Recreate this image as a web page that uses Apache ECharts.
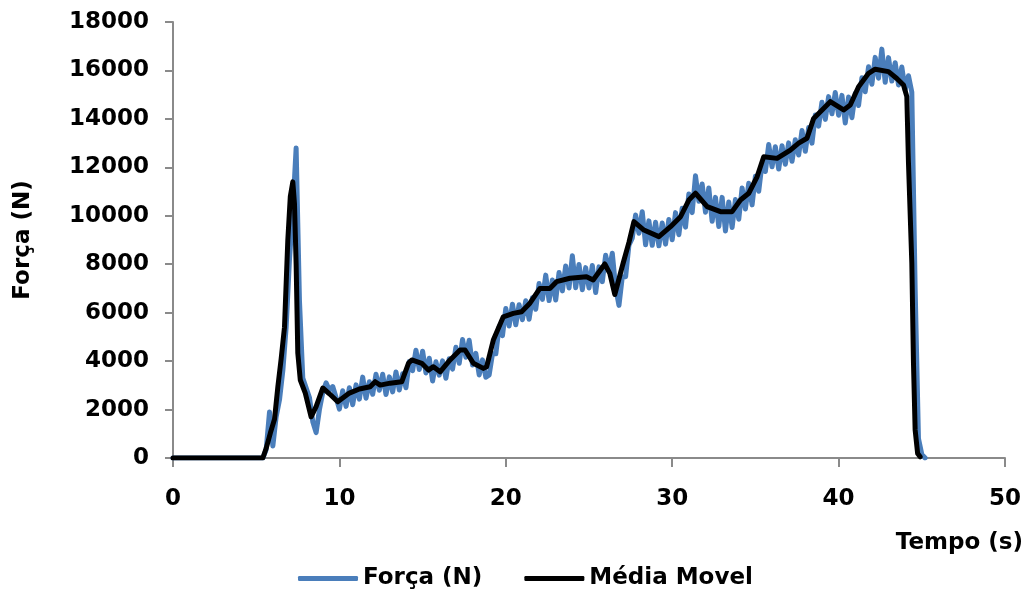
<!DOCTYPE html>
<html>
<head>
<meta charset="utf-8">
<script src="https://cdn.jsdelivr.net/npm/echarts@6/dist/echarts.min.js"></script>
<style>html,body{margin:0;padding:0;background:#fff}#c{width:1034px;height:594px}</style>
</head>
<body>
<div id="c"></div>
<script>
// Força (N) raw samples (time in s, force in N)
const forcaTempo = [
  0, 5.4, 5.6, 5.8, 6.0, 6.2, 6.4, 6.6, 6.8, 7.0,
  7.2, 7.4, 7.6, 7.8, 8.0, 8.2, 8.4, 8.6, 8.8, 9.0,
  9.2, 9.4, 9.6, 9.8, 10.0, 10.2, 10.4, 10.6, 10.8, 11.0,
  11.2, 11.4, 11.6, 11.8, 12.0, 12.2, 12.4, 12.6, 12.8, 13.0,
  13.2, 13.4, 13.6, 13.8, 14.0, 14.2, 14.4, 14.6, 14.8, 15.0,
  15.2, 15.4, 15.6, 15.8, 16.0, 16.2, 16.4, 16.6, 16.8, 17.0,
  17.2, 17.4, 17.6, 17.8, 18.0, 18.2, 18.4, 18.6, 18.8, 19.0,
  19.2, 19.4, 19.6, 19.8, 20.0, 20.2, 20.4, 20.6, 20.8, 21.0,
  21.2, 21.4, 21.6, 21.8, 22.0, 22.2, 22.4, 22.6, 22.8, 23.0,
  23.2, 23.4, 23.6, 23.8, 24.0, 24.2, 24.4, 24.6, 24.8, 25.0,
  25.2, 25.4, 25.6, 25.8, 26.0, 26.2, 26.4, 26.6, 26.8, 27.0,
  27.2, 27.4, 27.6, 27.8, 28.0, 28.2, 28.4, 28.6, 28.8, 29.0,
  29.2, 29.4, 29.6, 29.8, 30.0, 30.2, 30.4, 30.6, 30.8, 31.0,
  31.2, 31.4, 31.6, 31.8, 32.0, 32.2, 32.4, 32.6, 32.8, 33.0,
  33.2, 33.4, 33.6, 33.8, 34.0, 34.2, 34.4, 34.6, 34.8, 35.0,
  35.2, 35.4, 35.6, 35.8, 36.0, 36.2, 36.4, 36.6, 36.8, 37.0,
  37.2, 37.4, 37.6, 37.8, 38.0, 38.2, 38.4, 38.6, 38.8, 39.0,
  39.2, 39.4, 39.6, 39.8, 40.0, 40.2, 40.4, 40.6, 40.8, 41.0,
  41.2, 41.4, 41.6, 41.8, 42.0, 42.2, 42.4, 42.6, 42.8, 43.0,
  43.2, 43.4, 43.6, 43.8, 44.0, 44.2, 44.4, 44.6, 44.8, 45.0,
  45.2
];
const forcaValor = [
  0, 0, 350, 1900, 500, 1700, 2400, 3600, 5400, 8200,
  10200, 12800, 6500, 3300, 2900, 2500, 1500, 1050, 2000, 2700,
  3100, 2800, 2950, 2500, 2020, 2780, 2130, 2900, 2200, 3020,
  2430, 3340, 2470, 3150, 2630, 3460, 2800, 3460, 2620, 3350,
  2730, 3550, 2810, 3480, 2900, 3980, 3610, 4450, 3650, 4410,
  3510, 4120, 3180, 3970, 3420, 4010, 3290, 4100, 3670, 4570,
  3910, 4890, 4160, 4860, 3840, 4320, 3430, 4050, 3330, 3430,
  4300, 4300, 5430, 5050, 6170, 5450, 6350, 5500, 6330, 5710,
  6490, 5730, 6620, 6140, 7200, 6550, 7550, 6500, 7350, 6520,
  7660, 6900, 7930, 7020, 8350, 7030, 7990, 6950, 7860, 7020,
  7950, 6830, 7890, 7280, 8370, 7710, 8450, 7030, 6300, 7470,
  7480, 8790, 9080, 10030, 9280, 10170, 8800, 9790, 8780, 9730,
  8760, 9700, 8830, 9850, 9010, 10130, 9220, 10310, 9530, 10900,
  10130, 11650, 10600, 11310, 10150, 11150, 9770, 10760, 9560, 10760,
  9370, 10570, 9520, 10670, 9860, 11150, 10280, 11340, 10450, 11630,
  11010, 12160, 11830, 12940, 12020, 12850, 11930, 12890, 12130, 13010,
  12250, 13140, 12510, 13520, 12660, 13640, 13000, 14160, 13700, 14690,
  13980, 14920, 14210, 15090, 14150, 14970, 13830, 14900, 14050, 15050,
  14550, 15700, 15120, 16150, 15430, 16540, 15680, 16880, 15510, 16530,
  15560, 16320, 15400, 16140, 15200, 15780, 15100, 7000, 800, 150,
  0
];

// Média Movel (moving average)
const mediaTempo = [
  0, 5.4, 5.6, 5.85, 6.1, 6.3, 6.5, 6.7, 6.9, 7.05,
  7.2, 7.3, 7.4, 7.5, 7.65, 7.95, 8.3, 8.6, 9.0, 9.4,
  9.9, 10.6, 11.2, 11.85, 12.15, 12.45, 13.05, 13.75, 14.15, 14.35,
  14.95, 15.35, 15.65, 16.05, 16.65, 17.25, 17.55, 18.05, 18.65, 18.85,
  19.25, 19.85, 20.45, 20.95, 21.45, 22.05, 22.65, 23.05, 23.85, 24.85,
  25.25, 25.95, 26.25, 26.55, 27.05, 27.4, 27.7, 28.3, 29.2, 29.9,
  30.5, 31.0, 31.4, 32.1, 32.9, 33.6, 34.1, 34.6, 35.1, 35.5,
  36.3, 37.1, 37.6, 38.1, 38.5, 39.5, 40.3, 40.7, 41.2, 41.8,
  42.2, 43.0, 43.5, 43.9, 44.1, 44.2, 44.4, 44.5, 44.6, 44.75,
  44.9
];
const mediaForca = [
  0, 0, 400, 1030, 1600, 2930, 4100, 5400, 9000, 10800,
  11400, 10500, 8000, 4330, 3220, 2680, 1700, 2120, 2890, 2650,
  2320, 2680, 2850, 2940, 3150, 3010, 3090, 3150, 3910, 4050,
  3910, 3630, 3770, 3560, 4050, 4460, 4460, 3910, 3700, 3770,
  4870, 5830, 5970, 6040, 6390, 7000, 7000, 7280, 7420, 7480,
  7350, 8010, 7620, 6750, 8040, 8900, 9760, 9410, 9140, 9550,
  9960, 10650, 10930, 10380, 10170, 10170, 10650, 10930, 11610, 12440,
  12370, 12710, 13000, 13200, 14020, 14710, 14370, 14570, 15330, 15880,
  16050, 15950, 15670, 15400, 14920, 12170, 8040, 3910, 1160, 190,
  50
];

const seriesNames = ['Força (N)', 'Média Movel'];
const xTitle = 'Tempo (s)';
const yTitle = 'Força (N)';

const zip = (a, b) => a.map((t, i) => [t, b[i]]);
const FONT = 'DejaVu Sans';
const plain = v => String(v);

const chart = echarts.init(document.getElementById('c'), null, {renderer: 'canvas'});
chart.setOption({
  animation: false,
  backgroundColor: '#ffffff',
  grid: {left: 173, right: 29, top: 22, bottom: 136, containLabel: false},
  legend: {
    data: seriesNames,
    left: 293, top: 562,
    itemWidth: 60, itemHeight: 5, itemGap: 42,
    icon: 'roundRect',
    textStyle: {fontFamily: FONT, fontWeight: 'bold', fontSize: 23, color: '#000'}
  },
  xAxis: {
    type: 'value', min: 0, max: 50, interval: 10,
    name: xTitle, nameLocation: 'end', nameGap: 18,
    nameTextStyle: {fontFamily: FONT, fontWeight: 'bold', fontSize: 23, color: '#000',
      align: 'right', verticalAlign: 'top', padding: [74, 0, 0, 0]},
    axisLine: {show: true, lineStyle: {color: '#8a8a8a', width: 2}},
    axisTick: {show: true, inside: false, length: 9, lineStyle: {color: '#8a8a8a', width: 2}},
    axisLabel: {margin: 30, fontFamily: FONT, fontWeight: 'bold', fontSize: 23, color: '#000', formatter: plain},
    splitLine: {show: false}
  },
  yAxis: {
    type: 'value', min: 0, max: 18000, interval: 2000,
    name: yTitle, nameLocation: 'middle', nameGap: 138, nameRotate: 90,
    nameTextStyle: {fontFamily: FONT, fontWeight: 'bold', fontSize: 23, color: '#000'},
    axisLine: {show: true, lineStyle: {color: '#8a8a8a', width: 2}},
    axisTick: {show: true, inside: false, length: 8, lineStyle: {color: '#8a8a8a', width: 2}},
    axisLabel: {margin: 24, fontFamily: FONT, fontWeight: 'bold', fontSize: 23, color: '#000', formatter: plain},
    splitLine: {show: false}
  },
  series: [
    {
      name: seriesNames[0], type: 'line', data: zip(forcaTempo, forcaValor),
      showSymbol: false, symbol: 'none',
      itemStyle: {color: '#4A7EBB'},
      lineStyle: {color: '#4A7EBB', width: 5, join: 'round', cap: 'round'},
      z: 2
    },
    {
      name: seriesNames[1], type: 'line', data: zip(mediaTempo, mediaForca),
      showSymbol: false, symbol: 'none',
      itemStyle: {color: '#000000'},
      lineStyle: {color: '#000000', width: 5, join: 'round', cap: 'round'},
      z: 3
    }
  ]
});
</script>
</body>
</html>
